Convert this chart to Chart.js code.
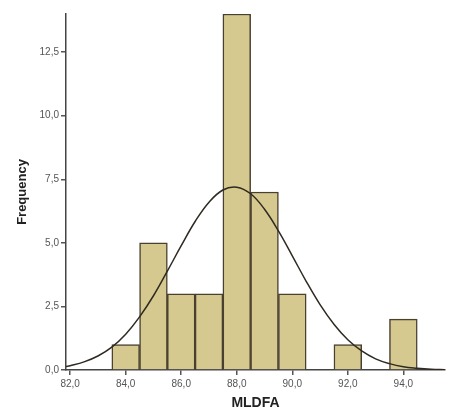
<!DOCTYPE html>
<html>
<head>
<meta charset="utf-8">
<script src="https://cdn.jsdelivr.net/npm/chart.js"></script>
<style>
  body { margin: 0; background: #fff; }
  #wrap { width: 460px; height: 412px; }
</style>
</head>
<body>
<div id="wrap"><canvas id="histo"></canvas></div>
<script>
// bin centres and counts
const bins = [84, 85, 86, 87, 88, 89, 90, 92, 94];
const counts = [1, 5, 3, 3, 14, 7, 3, 1, 2];

// normal curve
const curveX = [81.85, 82, 82.5, 83, 83.5, 84, 84.5, 85, 85.5, 86, 86.5, 87, 87.5, 88, 88.5,
  89, 89.5, 90, 90.5, 91, 91.5, 92, 92.5, 93, 93.5, 94, 94.5, 95, 95.5];
const curveY = [0.14, 0.17, 0.32, 0.55, 0.90, 1.41, 2.09, 2.92, 3.89, 4.89, 5.84, 6.60, 7.08, 7.19, 6.93,
  6.32, 5.47, 4.49, 3.49, 2.57, 1.80, 1.19, 0.75, 0.44, 0.25, 0.13, 0.07, 0.03, 0.01];

const xTicks = [82, 84, 86, 88, 90, 92, 94];
const yTicks = [0, 2.5, 5, 7.5, 10, 12.5];

const fmt = v => v.toFixed(1).replace('.', ',');

const ctx = document.getElementById('histo');

new Chart(ctx, {
  data: {
    datasets: [{
      type: 'line',
      data: curveX.map((x, i) => ({ x: x, y: curveY[i] })),
      borderColor: '#2e2a22',
      borderWidth: 1.5,
      pointRadius: 0,
      tension: 0.4,
      fill: false,
      order: 0
    }, {
      type: 'bar',
      data: bins.map((b, i) => ({ x: b, y: counts[i] })),
      backgroundColor: '#d6c98f',
      borderColor: '#4a4030',
      borderWidth: 1.5,
      barPercentage: 1,
      categoryPercentage: 1,
      order: 1
    }]
  },
  options: {
    responsive: true,
    maintainAspectRatio: false,
    animation: false,
    layout: { padding: { left: 4, right: 15, top: 14, bottom: 0 } },
    plugins: { legend: { display: false }, tooltip: { enabled: false } },
    scales: {
      x: {
        type: 'linear',
        min: 81.85,
        max: 95.5,
        offset: false,
        afterBuildTicks: s => { s.ticks = xTicks.map(v => ({ value: v })); },
        afterFit: s => { s.height = 42; },
        grid: { offset: false, drawOnChartArea: false, drawTicks: true, tickLength: 5, color: '#555', lineWidth: 1.5 },
        border: { display: true, color: '#444', width: 1.5 },
        ticks: { color: '#555', font: { family: 'Liberation Sans', size: 10 }, padding: 3,
          maxRotation: 0, callback: v => fmt(v) },
        title: { display: true, text: 'MLDFA', color: '#222',
          font: { family: 'Liberation Sans', size: 14, weight: 'bold' }, padding: { top: 0, bottom: 0 } }
      },
      y: {
        min: 0,
        max: 14,
        afterBuildTicks: s => { s.ticks = yTicks.map(v => ({ value: v })); },
        afterFit: s => { s.width = 62; },
        grid: { drawOnChartArea: false, drawTicks: true, tickLength: 5, color: '#555', lineWidth: 1.5 },
        border: { display: true, color: '#444', width: 1.5 },
        ticks: { color: '#555', font: { family: 'Liberation Sans', size: 10 }, padding: 2,
          callback: v => fmt(v) },
        title: { display: true, text: 'Frequency', color: '#222',
          font: { family: 'Liberation Sans', size: 13, weight: 'bold' }, padding: { top: 11, bottom: 0 } }
      }
    }
  }
});
</script>
</body>
</html>
